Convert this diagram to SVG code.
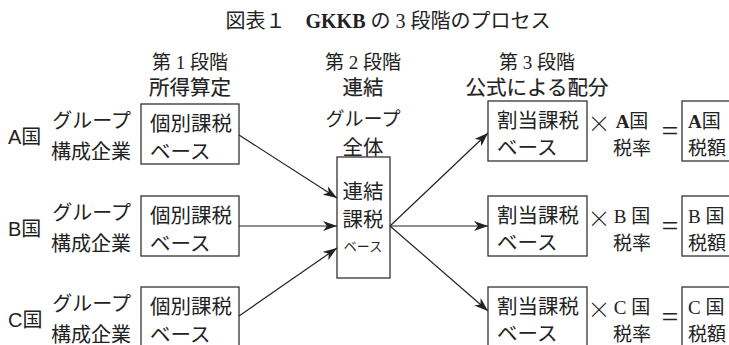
<svg xmlns="http://www.w3.org/2000/svg" width="729" height="345" viewBox="0 0 729 345">
<style>
.bg{fill:#fff}
.box{fill:#fff;stroke:#333;stroke-width:1.3}
.m{font-family:'Liberation Serif','Noto Sans CJK JP',serif;fill:#222}
.g{font-family:'Liberation Sans','Noto Sans CJK JP',sans-serif;fill:#222}
.h{stroke:#222;stroke-width:0.2}
.t20{font-size:20.5px}
.t19{font-size:19px}
.c{text-anchor:middle}
.e{text-anchor:end}
.x{font-family:'Noto Sans CJK JP','Noto Sans',sans-serif;font-size:23px;font-weight:300;fill:#222;text-anchor:middle}
.op{font-family:'Liberation Serif',serif;font-size:30px;fill:#222;text-anchor:middle}
.conn line{stroke:#222;stroke-width:1.2;marker-end:url(#ah)}
</style>
<defs>
<marker id="ah" viewBox="0 0 14 10" refX="14" refY="5" markerWidth="14" markerHeight="10" orient="auto" markerUnits="userSpaceOnUse">
<path d="M0,0 L14,5 L0,10 L4,5 Z" fill="#222"/>
</marker>
</defs>
<rect class="bg" x="0" y="0" width="729" height="345"/>
<g id="title">
<text class="m c" x="388" y="28" font-size="20">図表１　<tspan font-weight="bold">GKKB</tspan> の 3 段階のプロセス</text>
</g>
<g id="headers">
<text class="m c t19" x="190" y="69">第 1 段階</text>
<text class="g h c t20" x="190" y="95">所得算定</text>
<text class="m c t19" x="363" y="69">第 2 段階</text>
<text class="g h c t20" x="363" y="95">連結</text>
<text class="m c t19" x="537" y="69">第 3 段階</text>
<text class="g h c t20" x="537" y="95">公式による配分</text>
</g>
<g id="rowA-left">
<text class="g" x="8" y="144" font-size="20">A国</text>
<text class="m e" x="131" y="128" font-size="20">グループ</text>
<text class="m e" x="131" y="159" font-size="20">構成企業</text>
<rect class="box" x="141" y="104" width="98" height="60"/>
<text class="m t20" x="150" y="131">個別課税</text>
<text class="m t20" x="150" y="159">ベース</text>
</g>
<g id="rowB-left">
<text class="g" x="8" y="236" font-size="20">B国</text>
<text class="m e" x="131" y="220" font-size="20">グループ</text>
<text class="m e" x="131" y="251" font-size="20">構成企業</text>
<rect class="box" x="141" y="196" width="98" height="60"/>
<text class="m t20" x="150" y="223">個別課税</text>
<text class="m t20" x="150" y="251">ベース</text>
</g>
<g id="rowC-left">
<text class="g" x="8" y="327" font-size="20">C国</text>
<text class="m e" x="131" y="311" font-size="20">グループ</text>
<text class="m e" x="131" y="342" font-size="20">構成企業</text>
<rect class="box" x="141" y="287" width="98" height="62"/>
<text class="m t20" x="150" y="314">個別課税</text>
<text class="m t20" x="150" y="342">ベース</text>
</g>
<g id="center">
<text class="m c t19" x="363" y="126">グループ</text>
<text class="m c t20" x="363" y="155">全体</text>
<rect class="box" x="337" y="157" width="53" height="121"/>
<text class="m c t20" x="363" y="199">連結</text>
<text class="m c t20" x="363" y="227">課税</text>
<text class="m c" x="363" y="251" font-size="13">ベース</text>
</g>
<g id="rowA-right">
<rect class="box" x="488" y="101" width="99" height="60"/>
<text class="m t20" x="497" y="128">割当課税</text>
<text class="m t20" x="497" y="155">ベース</text>
<text class="x" x="599" y="132">×</text>
<text class="m c t19" x="632" y="128"><tspan font-weight="bold">A</tspan>国</text>
<text class="m c t19" x="632" y="155">税率</text>
<text class="op" x="670" y="141">=</text>
<rect class="box" x="682" y="101" width="60" height="60"/>
<text class="m t19" x="688" y="128"><tspan font-weight="bold">A</tspan>国</text>
<text class="m t19" x="688" y="155">税額</text>
</g>
<g id="rowB-right">
<rect class="box" x="488" y="196" width="99" height="60"/>
<text class="m t20" x="497" y="223">割当課税</text>
<text class="m t20" x="497" y="250">ベース</text>
<text class="x" x="599" y="227">×</text>
<text class="m c t19" x="632" y="223">B 国</text>
<text class="m c t19" x="632" y="250">税率</text>
<text class="op" x="670" y="236">=</text>
<rect class="box" x="682" y="196" width="60" height="60"/>
<text class="m t19" x="688" y="223">B 国</text>
<text class="m t19" x="688" y="250">税額</text>
</g>
<g id="rowC-right">
<rect class="box" x="488" y="287" width="99" height="62"/>
<text class="m t20" x="497" y="314">割当課税</text>
<text class="m t20" x="497" y="341">ベース</text>
<text class="x" x="599" y="318">×</text>
<text class="m c t19" x="632" y="314">C 国</text>
<text class="m c t19" x="632" y="341">税率</text>
<text class="op" x="670" y="327">=</text>
<rect class="box" x="682" y="287" width="60" height="62"/>
<text class="m t19" x="688" y="314">C 国</text>
<text class="m t19" x="688" y="341">税額</text>
</g>
<g id="connectors" class="conn">
<line x1="239" y1="135" x2="337" y2="198"/>
<line x1="239" y1="226" x2="337" y2="226"/>
<line x1="239" y1="316" x2="337" y2="248"/>
<line x1="390" y1="226" x2="488" y2="133"/>
<line x1="390" y1="226" x2="488" y2="226"/>
<line x1="390" y1="226" x2="488" y2="311"/>
</g>
</svg>
